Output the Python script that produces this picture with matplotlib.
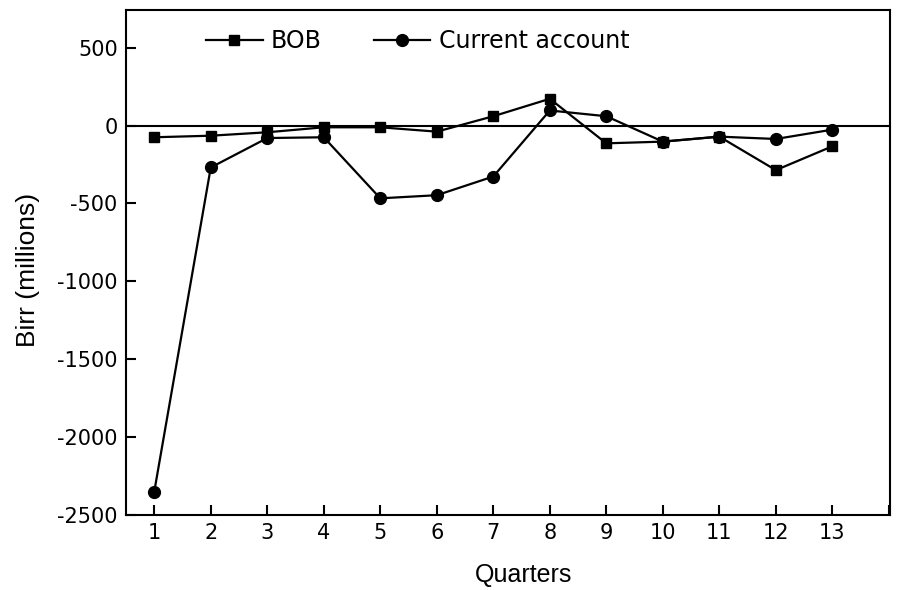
import matplotlib
matplotlib.use("Agg")
import matplotlib.pyplot as plt

quarters = list(range(1, 14))
bob = [-75, -65, -43, -11, -11, -39, 60, 172, -114, -103, -71, -286, -133]
current_account = [-2350, -269, -80, -75, -467, -447, -327, 97, 60, -103, -71, -86, -26]
xtick_labels = [str(q) for q in quarters] + [""]
yticks = [500, 0, -500, -1000, -1500, -2000, -2500]

plt.rcParams['axes.unicode_minus'] = False
plt.rcParams['font.family'] = ['DejaVu Sans']

fig = plt.figure(figsize=(9.07, 5.9), dpi=100)
ax = fig.add_axes([126/907, 1 - 515/590, (890-126)/907, (515-10)/590])

ax.axhline(0, color='black', lw=1.5, zorder=1)
ax.plot(quarters, bob, color='black', lw=1.6, marker='s', markersize=7.5, label='BOB', zorder=3)
ax.plot(quarters, current_account, color='black', lw=1.6, marker='o', markersize=8.5,
        label='Current account', zorder=3)

ax.set_xlim(0.5, 14.02)
ax.set_ylim(-2500, 742)
ax.set_xticks(list(range(1, 15)))
ax.set_xticklabels(xtick_labels)
ax.set_yticks(yticks)
ax.set_yticklabels([str(v) for v in yticks])
ax.tick_params(direction='in', length=7, width=1.5, labelsize=15, pad=6)
for s in ax.spines.values():
    s.set_linewidth(1.5)

ax.set_xlabel('Quarters', fontsize=18, family='Liberation Sans')
ax.xaxis.set_label_coords(0.52, -0.095)
ax.set_ylabel('Birr (millions)', fontsize=19, family='Liberation Sans')
ax.yaxis.set_label_coords(-0.112, 0.485)

leg = ax.legend(loc='upper left', bbox_to_anchor=(0.08, 1.0), ncol=2, frameon=False,
                fontsize=17, handlelength=2.4, handletextpad=0.35, columnspacing=2.2,
                borderaxespad=0.4)

fig.savefig('out.png', dpi=100)
